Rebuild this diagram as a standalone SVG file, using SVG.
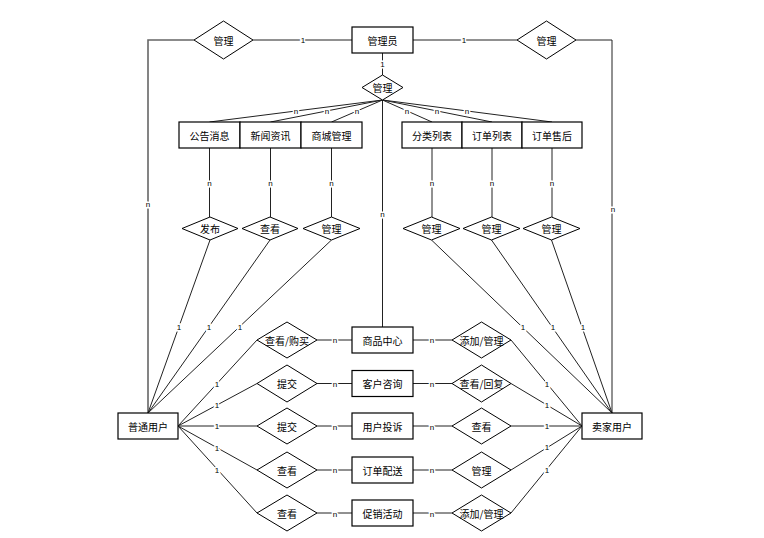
<svg xmlns="http://www.w3.org/2000/svg" width="764" height="538" viewBox="0 0 764 538">
<style>
.ent{fill:#fff;stroke:#000;stroke-width:1.2}
.rel{fill:#fff;stroke:#000;stroke-width:1}
.ln{stroke:#222;stroke-width:1;fill:none}
.lg{stroke:#666;stroke-width:1.6;fill:none}
.t{font-family:"Noto Sans CJK SC","Liberation Sans",sans-serif;font-size:10px;text-anchor:middle;dominant-baseline:central;fill:#000}
.c{font-family:"Liberation Sans",sans-serif;font-size:8px;text-anchor:middle;dominant-baseline:central;fill:#000;stroke:#fff;stroke-width:3;paint-order:stroke}
</style>
<rect width="764" height="538" fill="#fff"/>
<g id="connectors">
<polyline class="lg" points="194,40 148,40 148,413"/>
<line class="ln" x1="253" y1="40" x2="352" y2="40"/>
<polyline class="ln" points="576,40 612,40 612,413"/>
<line class="ln" x1="413" y1="40" x2="517" y2="40"/>
<line class="ln" x1="382.5" y1="53" x2="382.5" y2="75"/>
<line class="ln" x1="382.5" y1="100" x2="209.5" y2="122"/>
<line class="ln" x1="382.5" y1="100" x2="270.5" y2="122"/>
<line class="ln" x1="382.5" y1="100" x2="331.5" y2="122"/>
<line class="ln" x1="382.5" y1="100" x2="432" y2="122"/>
<line class="ln" x1="382.5" y1="100" x2="492" y2="122"/>
<line class="ln" x1="382.5" y1="100" x2="552" y2="122"/>
<line class="ln" x1="382.5" y1="100" x2="382.5" y2="327"/>
<line class="ln" x1="209.5" y1="148" x2="209.5" y2="217"/>
<line class="ln" x1="270.5" y1="148" x2="270.5" y2="217"/>
<line class="ln" x1="331.5" y1="148" x2="331.5" y2="217"/>
<line class="ln" x1="432" y1="148" x2="432" y2="217"/>
<line class="ln" x1="492" y1="148" x2="492" y2="217"/>
<line class="ln" x1="552" y1="148" x2="552" y2="217"/>
<line class="ln" x1="210" y1="240" x2="148" y2="413"/>
<line class="ln" x1="270" y1="240" x2="148" y2="413"/>
<line class="ln" x1="331.5" y1="240" x2="148" y2="413"/>
<line class="ln" x1="431.5" y1="240" x2="612" y2="413"/>
<line class="ln" x1="491.5" y1="240" x2="612" y2="413"/>
<line class="ln" x1="551.5" y1="240" x2="612" y2="413"/>
<line class="ln" x1="178" y1="426" x2="257" y2="340"/>
<line class="ln" x1="178" y1="426" x2="257" y2="383.5"/>
<line class="ln" x1="178" y1="426" x2="257" y2="426"/>
<line class="ln" x1="178" y1="426" x2="257" y2="470"/>
<line class="ln" x1="178" y1="426" x2="257" y2="513"/>
<line class="ln" x1="582" y1="426" x2="511" y2="340"/>
<line class="ln" x1="582" y1="426" x2="511" y2="383.5"/>
<line class="ln" x1="582" y1="426" x2="511" y2="426"/>
<line class="ln" x1="582" y1="426" x2="511" y2="470"/>
<line class="ln" x1="582" y1="426" x2="511" y2="513"/>
<line class="ln" x1="317" y1="340" x2="352" y2="340"/>
<line class="ln" x1="317" y1="383.5" x2="352" y2="383.5"/>
<line class="ln" x1="317" y1="426" x2="352" y2="426"/>
<line class="ln" x1="317" y1="470" x2="352" y2="470"/>
<line class="ln" x1="317" y1="513" x2="352" y2="513"/>
<line class="ln" x1="413" y1="340" x2="452" y2="340"/>
<line class="ln" x1="413" y1="383.5" x2="452" y2="383.5"/>
<line class="ln" x1="413" y1="426" x2="452" y2="426"/>
<line class="ln" x1="413" y1="470" x2="452" y2="470"/>
<line class="ln" x1="413" y1="513" x2="452" y2="513"/>
<g id="cardinalities">
<text class="c" x="303" y="40">1</text>
<text class="c" x="464" y="40">1</text>
<text class="c" x="148" y="204">n</text>
<text class="c" x="613" y="209">n</text>
<text class="c" x="382.5" y="64">1</text>
<text class="c" x="296" y="111">n</text>
<text class="c" x="327" y="111">n</text>
<text class="c" x="357" y="111">n</text>
<text class="c" x="407" y="111">n</text>
<text class="c" x="437" y="111">n</text>
<text class="c" x="467" y="111">n</text>
<text class="c" x="382.5" y="214">n</text>
<text class="c" x="209.5" y="183">n</text>
<text class="c" x="270.5" y="183">n</text>
<text class="c" x="331.5" y="183">n</text>
<text class="c" x="432" y="183">n</text>
<text class="c" x="492" y="183">n</text>
<text class="c" x="552" y="183">n</text>
<text class="c" x="179" y="327">1</text>
<text class="c" x="209" y="327">1</text>
<text class="c" x="240" y="327">1</text>
<text class="c" x="523" y="327">1</text>
<text class="c" x="553" y="327">1</text>
<text class="c" x="583" y="327">1</text>
<text class="c" x="217" y="384">1</text>
<text class="c" x="217" y="405">1</text>
<text class="c" x="217" y="426">1</text>
<text class="c" x="217" y="448">1</text>
<text class="c" x="217" y="470">1</text>
<text class="c" x="547" y="384">1</text>
<text class="c" x="547" y="405">1</text>
<text class="c" x="547" y="426">1</text>
<text class="c" x="547" y="447">1</text>
<text class="c" x="547" y="470">1</text>
<text class="c" x="335" y="340">n</text>
<text class="c" x="335" y="384">n</text>
<text class="c" x="335" y="427">n</text>
<text class="c" x="335" y="470">n</text>
<text class="c" x="335" y="514">n</text>
<text class="c" x="432" y="340">n</text>
<text class="c" x="432" y="384">n</text>
<text class="c" x="432" y="427">n</text>
<text class="c" x="432" y="470">n</text>
<text class="c" x="432" y="514">n</text>
</g>
</g>
<g id="admin"><rect class="ent" x="352" y="27" width="61" height="26"/><text class="t" x="382.5" y="40">管理员</text></g>
<g id="r-admin-user"><polygon class="rel" points="194,40 223.5,21 253,40 223.5,59"/><text class="t" x="223.5" y="40">管理</text></g>
<g id="r-admin-seller"><polygon class="rel" points="517,40 546.5,21 576,40 546.5,59"/><text class="t" x="546.5" y="40">管理</text></g>
<g id="r-admin-manage"><polygon class="rel" points="362,87.5 382.5,75 403,87.5 382.5,100"/><text class="t" x="382.5" y="87.5">管理</text></g>
<g id="e-notice"><rect class="ent" x="179" y="122" width="61" height="26"/><text class="t" x="209.5" y="135">公告消息</text></g>
<g id="e-news"><rect class="ent" x="240" y="122" width="61" height="26"/><text class="t" x="270.5" y="135">新闻资讯</text></g>
<g id="e-mall"><rect class="ent" x="301" y="122" width="61" height="26"/><text class="t" x="331.5" y="135">商城管理</text></g>
<g id="e-category"><rect class="ent" x="402" y="122" width="60" height="26"/><text class="t" x="432" y="135">分类列表</text></g>
<g id="e-orders"><rect class="ent" x="462" y="122" width="60" height="26"/><text class="t" x="492" y="135">订单列表</text></g>
<g id="e-aftersale"><rect class="ent" x="522" y="122" width="60" height="26"/><text class="t" x="552" y="135">订单售后</text></g>
<g id="r-publish"><polygon class="rel" points="182,228.5 210,217 238,228.5 210,240"/><text class="t" x="210" y="228.5">发布</text></g>
<g id="r-view"><polygon class="rel" points="242,228.5 270,217 298,228.5 270,240"/><text class="t" x="270" y="228.5">查看</text></g>
<g id="r-mallmanage"><polygon class="rel" points="303,228.5 331.5,217 360,228.5 331.5,240"/><text class="t" x="331.5" y="228.5">管理</text></g>
<g id="r-cat"><polygon class="rel" points="403,228.5 431.5,217 460,228.5 431.5,240"/><text class="t" x="431.5" y="228.5">管理</text></g>
<g id="r-ord"><polygon class="rel" points="463,228.5 491.5,217 520,228.5 491.5,240"/><text class="t" x="491.5" y="228.5">管理</text></g>
<g id="r-aft"><polygon class="rel" points="523,228.5 551.5,217 580,228.5 551.5,240"/><text class="t" x="551.5" y="228.5">管理</text></g>
<g id="e-user"><rect class="ent" x="118" y="413" width="60" height="26"/><text class="t" x="148" y="426">普通用户</text></g>
<g id="e-seller"><rect class="ent" x="582" y="413" width="60" height="26"/><text class="t" x="612" y="426">卖家用户</text></g>
<g id="e-goods"><rect class="ent" x="352" y="327" width="61" height="26"/><text class="t" x="382.5" y="340">商品中心</text></g>
<g id="e-consult"><rect class="ent" x="352" y="370.5" width="61" height="26"/><text class="t" x="382.5" y="383.5">客户咨询</text></g>
<g id="e-complaint"><rect class="ent" x="352" y="413" width="61" height="26"/><text class="t" x="382.5" y="426">用户投诉</text></g>
<g id="e-delivery"><rect class="ent" x="352" y="457" width="61" height="26"/><text class="t" x="382.5" y="470">订单配送</text></g>
<g id="e-promo"><rect class="ent" x="352" y="500" width="61" height="26"/><text class="t" x="382.5" y="513">促销活动</text></g>
<g id="r-u1"><polygon class="rel" points="257,340 287,322 317,340 287,358"/><text class="t" x="287" y="340">查看/购买</text></g>
<g id="r-u2"><polygon class="rel" points="257,383.5 287,365 317,383.5 287,402"/><text class="t" x="287" y="383.5">提交</text></g>
<g id="r-u3"><polygon class="rel" points="257,426 287,408 317,426 287,444"/><text class="t" x="287" y="426">提交</text></g>
<g id="r-u4"><polygon class="rel" points="257,470 287,452 317,470 287,488"/><text class="t" x="287" y="470">查看</text></g>
<g id="r-u5"><polygon class="rel" points="257,513 287,495 317,513 287,531"/><text class="t" x="287" y="513">查看</text></g>
<g id="r-s1"><polygon class="rel" points="452,340 481.5,322 511,340 481.5,358"/><text class="t" x="481.5" y="340">添加/管理</text></g>
<g id="r-s2"><polygon class="rel" points="452,383.5 481.5,365 511,383.5 481.5,402"/><text class="t" x="481.5" y="383.5">查看/回复</text></g>
<g id="r-s3"><polygon class="rel" points="452,426 481.5,408 511,426 481.5,444"/><text class="t" x="481.5" y="426">查看</text></g>
<g id="r-s4"><polygon class="rel" points="452,470 481.5,452 511,470 481.5,488"/><text class="t" x="481.5" y="470">管理</text></g>
<g id="r-s5"><polygon class="rel" points="452,513 481.5,495 511,513 481.5,531"/><text class="t" x="481.5" y="513">添加/管理</text></g>
</svg>
